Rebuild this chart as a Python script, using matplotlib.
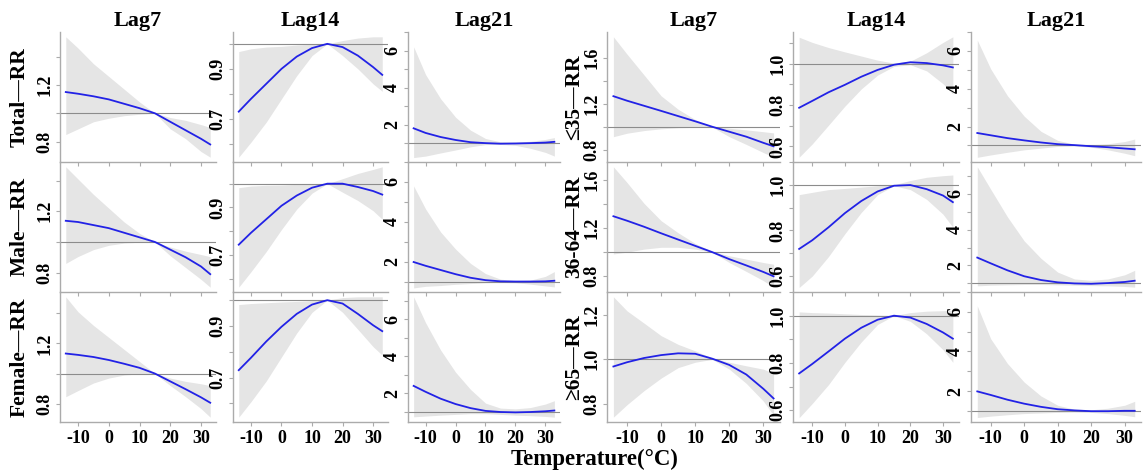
import matplotlib
matplotlib.use("Agg")
import matplotlib.pyplot as plt

plt.rcParams['font.family'] = ['Liberation Serif', 'DejaVu Serif']
plt.rcParams['font.weight'] = 'bold'

# temperature knots (°C)
temps = [-14, -10, -5, 0, 5, 10, 15, 20, 25, 30, 33]

# ---- left block: Total / Male / Female ----
total_lag7 = [1.15, 1.138, 1.12, 1.098, 1.067, 1.036, 1.0, 0.94, 0.88, 0.82, 0.78]
total_lag7_lo = [0.85, 0.89, 0.94, 0.965, 0.983, 0.993, 1.0, 0.89, 0.82, 0.73, 0.69]
total_lag7_hi = [1.54, 1.46, 1.35, 1.26, 1.17, 1.08, 1.0, 0.97, 0.95, 0.92, 0.90]

total_lag14 = [0.729, 0.78, 0.84, 0.90, 0.949, 0.983, 1.0, 0.987, 0.953, 0.907, 0.876]
total_lag14_lo = [0.547, 0.607, 0.687, 0.78, 0.873, 0.953, 1.0, 0.953, 0.90, 0.84, 0.81]
total_lag14_hi = [0.969, 0.98, 0.987, 0.99, 0.995, 0.998, 1.0, 1.013, 1.023, 1.028, 1.028]

total_lag21 = [1.8, 1.55, 1.33, 1.17, 1.05, 1.0, 0.97, 0.98, 1.0, 1.03, 1.07]
total_lag21_lo = [0.22, 0.3, 0.47, 0.63, 0.8, 0.92, 0.93, 0.88, 0.72, 0.5, 0.3]
total_lag21_hi = [6.2, 4.7, 3.4, 2.4, 1.7, 1.25, 1.07, 1.05, 1.1, 1.2, 1.3]

male_lag7 = [1.138, 1.13, 1.11, 1.09, 1.06, 1.03, 1.0, 0.95, 0.90, 0.84, 0.79]
male_lag7_lo = [0.86, 0.905, 0.95, 0.978, 0.993, 0.998, 1.0, 0.91, 0.833, 0.756, 0.705]
male_lag7_hi = [1.49, 1.41, 1.31, 1.22, 1.13, 1.056, 1.0, 0.967, 0.94, 0.918, 0.904]

male_lag14 = [0.743, 0.793, 0.85, 0.907, 0.95, 0.983, 1.0, 1.0, 0.986, 0.969, 0.954]
male_lag14_lo = [0.564, 0.629, 0.714, 0.807, 0.893, 0.96, 1.0, 0.964, 0.929, 0.886, 0.85]
male_lag14_hi = [0.983, 0.99, 0.993, 0.994, 0.997, 0.999, 1.0, 1.021, 1.043, 1.06, 1.071]

male_lag21 = [1.98, 1.79, 1.58, 1.37, 1.19, 1.07, 1.01, 1.0, 1.0, 1.01, 1.04]
male_lag21_lo = [0.68, 0.76, 0.8, 0.86, 0.9, 0.94, 0.96, 0.94, 0.87, 0.78, 0.73]
male_lag21_hi = [5.8, 4.64, 3.49, 2.63, 1.91, 1.40, 1.12, 1.04, 1.07, 1.26, 1.5]

female_lag7 = [1.133, 1.124, 1.11, 1.09, 1.065, 1.038, 1.0, 0.948, 0.896, 0.842, 0.806]
female_lag7_lo = [0.846, 0.887, 0.937, 0.97, 0.99, 0.998, 1.0, 0.92, 0.846, 0.767, 0.71]
female_lag7_hi = [1.51, 1.41, 1.32, 1.24, 1.16, 1.08, 1.0, 0.97, 0.948, 0.932, 0.92]

female_lag14 = [0.729, 0.777, 0.84, 0.897, 0.947, 0.983, 1.0, 0.987, 0.947, 0.903, 0.88]
female_lag14_lo = [0.547, 0.607, 0.687, 0.78, 0.873, 0.953, 1.0, 0.953, 0.887, 0.82, 0.787]
female_lag14_hi = [0.983, 0.987, 0.99, 0.993, 0.995, 0.998, 1.0, 1.01, 1.013, 1.013, 1.013]

female_lag21 = [2.39, 2.07, 1.7, 1.41, 1.19, 1.04, 0.98, 0.96, 0.98, 1.02, 1.06]
female_lag21_lo = [0.72, 0.76, 0.81, 0.85, 0.89, 0.89, 0.85, 0.81, 0.78, 0.74, 0.70]
female_lag21_hi = [7.2, 5.8, 4.33, 3.13, 2.2, 1.46, 1.19, 1.15, 1.22, 1.41, 1.59]

# ---- right block: age groups ----
age35_lag7 = [1.267, 1.228, 1.184, 1.14, 1.095, 1.05, 1.003, 0.96, 0.917, 0.864, 0.834]
age35_lag7_lo = [0.917, 0.947, 0.97, 0.985, 0.994, 0.998, 1.0, 0.917, 0.85, 0.78, 0.74]
age35_lag7_hi = [1.78, 1.63, 1.45, 1.27, 1.154, 1.065, 1.006, 0.99, 0.976, 0.96, 0.95]

age35_lag14 = [0.787, 0.82, 0.862, 0.898, 0.937, 0.97, 0.995, 1.007, 1.003, 0.992, 0.982]
age35_lag14_lo = [0.548, 0.612, 0.703, 0.795, 0.878, 0.945, 0.987, 0.995, 0.965, 0.903, 0.853]
age35_lag14_hi = [1.128, 1.103, 1.078, 1.057, 1.037, 1.017, 1.003, 1.012, 1.053, 1.103, 1.13]

age35_lag21 = [1.66, 1.54, 1.39, 1.27, 1.16, 1.07, 1.02, 0.96, 0.91, 0.84, 0.80]
age35_lag21_lo = [0.375, 0.5, 0.64, 0.77, 0.86, 0.95, 0.98, 0.91, 0.77, 0.59, 0.46]
age35_lag21_hi = [6.57, 5.05, 3.63, 2.55, 1.75, 1.27, 1.07, 1.04, 1.09, 1.21, 1.34]

age3664_lag7 = [1.297, 1.26, 1.21, 1.156, 1.104, 1.052, 1.0, 0.942, 0.89, 0.836, 0.8]
age3664_lag7_lo = [0.985, 1.0, 1.025, 1.04, 1.04, 1.025, 1.0, 0.914, 0.84, 0.764, 0.71]
age3664_lag7_hi = [1.706, 1.576, 1.403, 1.26, 1.16, 1.072, 1.006, 0.97, 0.942, 0.914, 0.9]

age3664_lag14 = [0.719, 0.757, 0.814, 0.876, 0.929, 0.971, 0.996, 0.999, 0.981, 0.953, 0.924]
age3664_lag14_lo = [0.55, 0.6, 0.686, 0.786, 0.879, 0.957, 0.996, 0.979, 0.936, 0.871, 0.814]
age3664_lag14_hi = [0.957, 0.967, 0.979, 0.984, 0.99, 0.996, 1.0, 1.019, 1.033, 1.04, 1.043]

age3664_lag21 = [2.44, 2.12, 1.73, 1.4, 1.19, 1.06, 1.0, 0.98, 1.02, 1.08, 1.15]
age3664_lag21_lo = [0.865, 0.9, 0.92, 0.94, 0.94, 0.92, 0.9, 0.88, 0.865, 0.83, 0.79]
age3664_lag21_hi = [7.5, 6.25, 4.71, 3.37, 2.4, 1.63, 1.25, 1.17, 1.25, 1.48, 1.73]

age65_lag7 = [0.968, 0.987, 1.006, 1.019, 1.027, 1.025, 1.003, 0.975, 0.932, 0.868, 0.825]
age65_lag7_lo = [0.741, 0.797, 0.86, 0.916, 0.963, 0.987, 1.0, 0.956, 0.892, 0.813, 0.749]
age65_lag7_hi = [1.28, 1.217, 1.162, 1.106, 1.067, 1.038, 1.006, 0.987, 0.971, 0.956, 0.937]

age65_lag14 = [0.756, 0.796, 0.849, 0.903, 0.949, 0.983, 1.0, 0.992, 0.965, 0.929, 0.903]
age65_lag14_lo = [0.569, 0.629, 0.709, 0.803, 0.889, 0.963, 1.0, 0.976, 0.923, 0.856, 0.803]
age65_lag14_hi = [1.016, 1.013, 1.011, 1.008, 1.005, 1.003, 1.0, 1.013, 1.019, 1.021, 1.023]

age65_lag21 = [1.98, 1.8, 1.56, 1.36, 1.2, 1.08, 1.02, 0.98, 0.98, 1.0, 1.0]
age65_lag21_lo = [0.66, 0.73, 0.8, 0.86, 0.89, 0.92, 0.94, 0.92, 0.86, 0.77, 0.7]
age65_lag21_hi = [6.3, 4.64, 3.39, 2.45, 1.75, 1.28, 1.08, 1.05, 1.13, 1.28, 1.48]

col_titles = ['Lag7', 'Lag14', 'Lag21']
left_rows = ['Total—RR', 'Male—RR', 'Female—RR']
right_rows = ['≤35—RR', '36-64—RR', '≥65—RR']
xticks = [-10, 0, 10, 20, 30]

# y ticks: (positions, labels)
yt_l7 = ([0.8, 1.0, 1.2, 1.4], ['0.8', '', '1.2', ''])
yt_l14 = ([0.6, 0.7, 0.8, 0.9, 1.0], ['', '0.7', '', '0.9', ''])
yt_21 = ([1, 2, 3, 4, 5, 6, 7], ['', '2', '', '4', '', '6', ''])
yt_r7 = ([0.8, 1.0, 1.2, 1.4, 1.6], ['0.8', '', '1.2', '', '1.6'])
yt_r7b = ([0.8, 1.0, 1.2], ['0.8', '1.0', '1.2'])
yt_r14 = ([0.6, 0.7, 0.8, 0.9, 1.0, 1.1], ['0.6', '', '0.8', '', '1.0', ''])

left_block = [
    [(total_lag7, total_lag7_lo, total_lag7_hi, yt_l7),
     (total_lag14, total_lag14_lo, total_lag14_hi, yt_l14),
     (total_lag21, total_lag21_lo, total_lag21_hi, yt_21)],
    [(male_lag7, male_lag7_lo, male_lag7_hi, yt_l7),
     (male_lag14, male_lag14_lo, male_lag14_hi, yt_l14),
     (male_lag21, male_lag21_lo, male_lag21_hi, yt_21)],
    [(female_lag7, female_lag7_lo, female_lag7_hi, yt_l7),
     (female_lag14, female_lag14_lo, female_lag14_hi, yt_l14),
     (female_lag21, female_lag21_lo, female_lag21_hi, yt_21)],
]
right_block = [
    [(age35_lag7, age35_lag7_lo, age35_lag7_hi, yt_r7),
     (age35_lag14, age35_lag14_lo, age35_lag14_hi, yt_r14),
     (age35_lag21, age35_lag21_lo, age35_lag21_hi, yt_21)],
    [(age3664_lag7, age3664_lag7_lo, age3664_lag7_hi, yt_r7),
     (age3664_lag14, age3664_lag14_lo, age3664_lag14_hi, yt_r14),
     (age3664_lag21, age3664_lag21_lo, age3664_lag21_hi, yt_21)],
    [(age65_lag7, age65_lag7_lo, age65_lag7_hi, yt_r7b),
     (age65_lag14, age65_lag14_lo, age65_lag14_hi, yt_r14),
     (age65_lag21, age65_lag21_lo, age65_lag21_hi, yt_21)],
]

W, H = 1146, 470
fig = plt.figure(figsize=(W / 100, H / 100), dpi=100)

# pixel boxes of the panels
left_cols = [(60, 216), (233, 388), (408, 560)]
right_cols = [(607, 780), (793, 959), (971, 1141)]
rows_px = [(32, 162), (162, 292), (292, 422)]

AXC = '#ababab'


def panel(x0, x1, y0, y1, rr, lo, hi, yt, bottom):
    ax = fig.add_axes([x0 / W, 1 - y1 / H, (x1 - x0) / W, (y1 - y0) / H])
    ax.fill_between(temps, lo, hi, color='#e5e5e5', lw=0)
    ax.axhline(1, color='#8c8c8c', lw=0.8)
    ax.plot(temps, rr, color='#2222e6', lw=1.3)
    ax.margins(x=0.04, y=0.04)
    ax.autoscale_view()
    for s in ['top', 'right']:
        ax.spines[s].set_visible(False)
    for s in ['left', 'bottom']:
        ax.spines[s].set_color(AXC)
        ax.spines[s].set_linewidth(1.0)
    ax.set_xticks(xticks)
    ax.set_yticks(yt[0])
    ax.set_yticklabels(yt[1], rotation=90, va='center', fontsize=13, fontweight='bold')
    ax.tick_params(direction='out', length=3, width=0.8, color=AXC, pad=2)
    if bottom:
        ax.set_xticklabels([str(t) for t in xticks], fontsize=13, fontweight='bold')
        ax.tick_params(axis='x', pad=3)
    else:
        ax.tick_params(axis='x', labelbottom=False)
    ax.patch.set_alpha(0)
    return ax


for cols, block in [(left_cols, left_block), (right_cols, right_block)]:
    for r, (y0, y1) in enumerate(rows_px):
        for c, (x0, x1) in enumerate(cols):
            rr, lo, hi, yt = block[r][c]
            panel(x0, x1, y0, y1, rr, lo, hi, yt, r == 2)

# column titles
for cols in [left_cols, right_cols]:
    for c, (x0, x1) in enumerate(cols):
        fig.text((x0 + x1) / 2 / W, 1 - 21 / H, col_titles[c], ha='center', va='center',
                 fontsize=16, fontweight='bold')

# row labels
for r, (y0, y1) in enumerate(rows_px):
    yc = 1 - (y0 + y1) / 2 / H
    fig.text(20 / W, yc, left_rows[r], rotation=90, ha='center', va='center',
             fontsize=15.5, fontweight='bold')
    fig.text(574 / W, yc, right_rows[r], rotation=90, ha='center', va='center',
             fontsize=15.5, fontweight='bold')

fig.text(595 / W, 1 - 459 / H, 'Temperature(°C)', ha='center', va='center',
         fontsize=16.5, fontweight='bold')

fig.savefig('out.png', dpi=100)
